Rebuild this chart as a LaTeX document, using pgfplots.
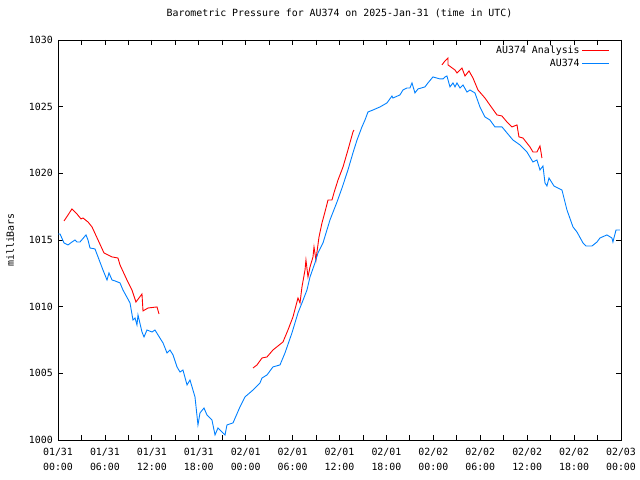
\documentclass[border=0pt]{standalone}
\usepackage{fontspec}
\setmainfont{DejaVu Sans Mono}
\usepackage{pgfplots}
\pgfplotsset{compat=1.18}
\definecolor{anared}{RGB}{255,0,0}
\definecolor{obsblue}{RGB}{0,128,255}
\newcommand{\gfont}{\fontsize{9.9bp}{15bp}\selectfont}

\begin{document}
\begin{tikzpicture}
\useasboundingbox (0,0) rectangle (640bp,480bp);
\begin{axis}[
    at={(58bp,40bp)}, anchor=south west,
    scale only axis,
    width=563bp, height=400bp,
    xmin=0, xmax=72, ymin=1000, ymax=1030,
    xtick={0,6,...,72},
    minor xtick={3,9,...,69},
    xticklabels={01/31\\00:00,01/31\\06:00,01/31\\12:00,01/31\\18:00,02/01\\00:00,02/01\\06:00,02/01\\12:00,02/01\\18:00,02/02\\00:00,02/02\\06:00,02/02\\12:00,02/02\\18:00,02/03\\00:00},
    ytick={1000,1005,...,1030},
    major tick length=5bp, minor tick length=5bp,
    tick style={black, line width=0.8bp},
    axis line style={black, line width=0.8bp},
    /pgf/number format/assume math mode=true,
    /pgf/number format/set thousands separator={},
    xticklabel style={align=center, anchor=north, inner sep=0pt, yshift=-8bp, font=\gfont},
    yticklabel style={anchor=east, inner sep=0pt, xshift=-5bp, font=\gfont},
    title={Barometric Pressure for AU374 on 2025-Jan-31 (time in UTC)},
    title style={at={(0.5,1)}, anchor=center, yshift=21bp, font=\gfont},
    ylabel={milliBars},
    ylabel style={at={(axis description cs:-0.085,0.5)}, rotate=0, anchor=center, font=\gfont},
    legend plot pos=right,
    legend cell align=right,
    legend style={at={(rel axis cs:0.98,0.99)}, anchor=north east, draw=none, fill=none,
        font=\gfont, inner sep=0pt, row sep=0bp},
    legend image code/.code={\draw[#1] (2bp,0bp) -- (29bp,0bp);},
    unbounded coords=jump,
]
\addplot[anared, line width=0.9bp] coordinates {
(0.77,1016.43) (1.79,1017.33) (2.43,1016.95) (2.94,1016.58) (3.20,1016.65)
(3.84,1016.35) (4.35,1015.98) (5.12,1015.0) (5.88,1014.03) (6.91,1013.73)
(7.67,1013.65) (7.93,1013.13) (8.82,1012.0) (9.46,1011.25) (9.97,1010.35)
(10.74,1010.95) (10.87,1009.68) (11.51,1009.9) (12.66,1009.98) (12.92,1009.45)
(18,nan)
(24.94,1005.4) (25.45,1005.63) (26.09,1006.15) (26.73,1006.23) (27.49,1006.75)
(28.13,1007.05) (28.77,1007.35) (29.41,1008.25) (30.05,1009.23) (30.69,1010.65)
(30.95,1010.28) (31.20,1011.48) (31.59,1012.75) (31.71,1013.5) (31.97,1012.23)
(32.23,1012.98) (32.61,1013.73) (32.74,1014.48) (32.99,1013.5) (33.12,1014.1)
(33.38,1015.23) (33.76,1016.28) (34.14,1017.1) (34.53,1018.0) (35.04,1018.0)
(35.29,1018.53) (35.81,1019.5) (36.45,1020.48) (37.08,1021.75) (37.72,1023.1)
(37.85,1023.25)
(43,nan)
(49.10,1028.13) (49.49,1028.43) (49.87,1028.65) (49.88,1028.13) (50.77,1027.75)
(51.02,1027.53) (51.66,1027.9) (52.05,1027.3) (52.56,1027.68) (53.07,1027.15)
(53.71,1026.25) (54.60,1025.65) (55.50,1024.9) (56.14,1024.38) (56.78,1024.3)
(57.42,1023.85) (58.06,1023.48) (58.70,1023.63) (58.95,1022.73) (59.46,1022.65)
(60.36,1021.98) (60.74,1021.6) (61.25,1021.6) (61.64,1022.05) (61.89,1021.15)
};
\addlegendentry{AU374 Analysis}
\addplot[obsblue, line width=0.9bp] coordinates {
(0.0,1015.45) (0.26,1015.45) (0.77,1014.78) (1.28,1014.63) (1.79,1014.85)
(2.17,1015.0) (2.43,1014.85) (2.81,1014.85) (3.58,1015.38) (3.84,1015.0)
(4.09,1014.4) (4.73,1014.33) (5.12,1013.73) (5.75,1012.75) (6.27,1012.0)
(6.52,1012.53) (6.91,1012.0) (7.29,1011.93) (7.93,1011.78) (8.31,1011.25)
(9.21,1010.28) (9.59,1009.0) (9.85,1009.15) (10.10,1008.63) (10.23,1009.38)
(10.74,1008.1) (11.0,1007.73) (11.38,1008.25) (12.02,1008.1) (12.40,1008.25)
(12.79,1007.88) (13.43,1007.28) (13.94,1006.53) (14.32,1006.75) (14.71,1006.38)
(15.22,1005.48) (15.60,1005.1) (15.98,1005.25) (16.50,1004.13) (16.88,1004.5)
(17.52,1003.23) (17.90,1001.13) (18.16,1002.03) (18.67,1002.4) (19.05,1001.88)
(19.69,1001.5) (20.08,1000.38) (20.46,1000.9) (21.36,1000.38) (21.61,1001.13)
(22.38,1001.28) (23.27,1002.48) (23.91,1003.23) (24.94,1003.75) (25.83,1004.28)
(26.09,1004.65) (26.73,1004.88) (27.49,1005.48) (28.39,1005.63) (29.03,1006.53)
(29.92,1008.03) (30.69,1009.53) (31.20,1010.28) (31.84,1011.25) (32.23,1012.23)
(32.86,1013.28) (33.25,1014.03) (33.89,1014.78) (34.78,1016.5) (35.68,1017.85)
(36.32,1018.9) (37.08,1020.25) (37.72,1021.53) (38.24,1022.5) (38.87,1023.48)
(39.26,1024.0) (39.64,1024.6) (40.28,1024.75) (41.18,1024.98) (42.07,1025.28)
(42.71,1025.8) (42.84,1025.65) (43.73,1025.88) (44.12,1026.25) (44.63,1026.4)
(45.01,1026.4) (45.27,1026.78) (45.65,1026.03) (46.04,1026.33) (46.93,1026.48)
(47.31,1026.78) (47.95,1027.23) (48.85,1027.08) (49.23,1027.08) (49.49,1027.23)
(49.74,1027.3) (50.13,1026.48) (50.51,1026.78) (50.77,1026.48) (51.02,1026.78)
(51.41,1026.4) (51.79,1026.63) (52.30,1026.1) (52.69,1026.25) (53.32,1026.03)
(53.96,1024.98) (54.60,1024.23) (55.24,1024.0) (55.88,1023.48) (56.78,1023.48)
(57.42,1023.03) (58.18,1022.5) (59.08,1022.13) (59.97,1021.6) (60.74,1020.85)
(61.25,1021.0) (61.64,1020.25) (62.02,1020.55) (62.28,1019.28) (62.53,1019.05)
(62.79,1019.65) (63.43,1019.05) (64.45,1018.75) (65.09,1017.25) (65.86,1015.98)
(66.37,1015.6) (67.14,1014.78) (67.52,1014.55) (68.29,1014.55) (68.93,1014.85)
(69.31,1015.15) (70.20,1015.38) (70.84,1015.15) (70.97,1014.85) (71.36,1015.75)
(71.87,1015.75)
};
\addlegendentry{AU374}
\end{axis}
\end{tikzpicture}
\end{document}
